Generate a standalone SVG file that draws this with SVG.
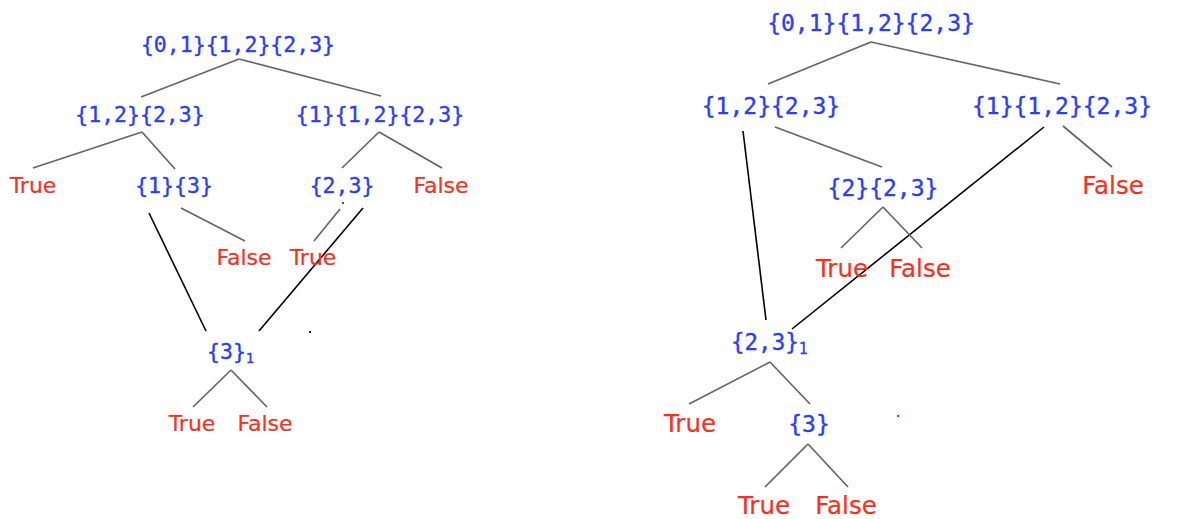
<svg xmlns="http://www.w3.org/2000/svg" width="1184" height="519" viewBox="0 0 1184 519">
<style>
.b{font-family:"DejaVu Sans Mono","Liberation Mono",monospace;fill:#2a3cff;stroke:#2a3cff;stroke-width:0.35;text-anchor:middle}
.r{font-family:"DejaVu Sans","Liberation Sans",sans-serif;fill:#ff2d1c;stroke:#ff2d1c;stroke-width:0.2;text-anchor:middle}
.L{font-size:21.5px}
.R{font-size:23px}
.rl{font-size:22px}
.rr{font-size:24.5px}
.g{stroke:#666;stroke-width:1.7;fill:none}
.k{stroke:#000;stroke-width:1.6;fill:none}
</style>
<rect width="1184" height="519" fill="#fff"/>
<g id="connectors">
<line class="g" x1="239" y1="59" x2="141" y2="97"/>
<line class="g" x1="239" y1="59" x2="381" y2="96"/>
<line class="g" x1="142" y1="132" x2="33" y2="168"/>
<line class="g" x1="142" y1="132" x2="175" y2="169"/>
<line class="g" x1="379" y1="132" x2="342" y2="168"/>
<line class="g" x1="379" y1="132" x2="442" y2="168"/>
<line class="g" x1="181" y1="208" x2="245" y2="241"/>
<line class="g" x1="340" y1="209" x2="314" y2="241"/>
<line class="k" x1="149" y1="213" x2="206" y2="331"/>
<line class="k" x1="363" y1="208" x2="259" y2="331"/>
<line class="g" x1="231" y1="370" x2="193" y2="407"/>
<line class="g" x1="231" y1="370" x2="267" y2="407"/>
<line class="g" x1="871" y1="42" x2="768" y2="84"/>
<line class="g" x1="871" y1="42" x2="1060" y2="84"/>
<line class="g" x1="775" y1="127" x2="882" y2="167"/>
<line class="g" x1="1063" y1="126" x2="1112" y2="167"/>
<line class="k" x1="743" y1="131" x2="766" y2="320"/>
<line class="k" x1="1044" y1="127" x2="792" y2="329"/>
<line class="g" x1="883" y1="207" x2="841" y2="248"/>
<line class="g" x1="883" y1="207" x2="922" y2="248"/>
<line class="g" x1="770" y1="362" x2="689" y2="404"/>
<line class="g" x1="770" y1="362" x2="810" y2="404"/>
<line class="g" x1="808" y1="444" x2="765" y2="487"/>
<line class="g" x1="808" y1="444" x2="848" y2="487"/>
<rect x="342" y="202" width="2" height="2" fill="#555"/>
<rect x="309" y="331" width="2" height="2" fill="#222"/>
<rect x="897" y="415" width="2" height="2" fill="#ff2d1c"/>
</g>
<g id="L_root"><text class="b L" x="238" y="52">{0,1}{1,2}{2,3}</text></g>
<g id="L_a"><text class="b L" x="140" y="122">{1,2}{2,3}</text></g>
<g id="L_b"><text class="b L" x="380" y="122">{1}{1,2}{2,3}</text></g>
<g id="L_t1"><text class="r rl" x="33" y="193">True</text></g>
<g id="L_c"><text class="b L" x="174" y="193">{1}{3}</text></g>
<g id="L_d"><text class="b L" x="342" y="193">{2,3}</text></g>
<g id="L_f1"><text class="r rl" x="441" y="193">False</text></g>
<g id="L_f2"><text class="r rl" x="244" y="265">False</text></g>
<g id="L_t2"><text class="r rl" x="313" y="265">True</text></g>
<g id="L_e"><text class="b L" x="207" y="359" style="text-anchor:start">{3}<tspan font-size="14" dy="4">1</tspan></text></g>
<g id="L_t3"><text class="r rl" x="192" y="431">True</text></g>
<g id="L_f3"><text class="r rl" x="265" y="431">False</text></g>
<g id="R_root"><text class="b R" x="871" y="31">{0,1}{1,2}{2,3}</text></g>
<g id="R_a"><text class="b R" x="771" y="114">{1,2}{2,3}</text></g>
<g id="R_b"><text class="b R" x="1062" y="114">{1}{1,2}{2,3}</text></g>
<g id="R_f1"><text class="r rr" x="1113" y="194">False</text></g>
<g id="R_c"><text class="b R" x="883" y="196">{2}{2,3}</text></g>
<g id="R_t1"><text class="r rr" x="842" y="277">True</text></g>
<g id="R_f2"><text class="r rr" x="920" y="277">False</text></g>
<g id="R_d"><text class="b R" x="731" y="350" style="text-anchor:start;font-size:22.5px">{2,3}<tspan font-size="15" dy="4">1</tspan></text></g>
<g id="R_t2"><text class="r rr" x="690" y="432">True</text></g>
<g id="R_e"><text class="b R" x="809" y="432">{3}</text></g>
<g id="R_t3"><text class="r rr" x="764" y="514">True</text></g>
<g id="R_f3"><text class="r rr" x="846" y="514">False</text></g>
</svg>
